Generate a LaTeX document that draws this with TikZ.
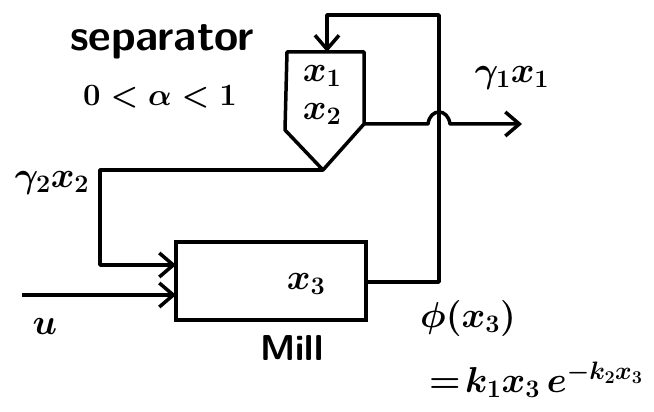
\RequirePackage{fix-cm}
\documentclass[tikz,border=0pt]{standalone}
\usepackage{tikz}
\usetikzlibrary{arrows.meta,positioning}
\tikzset{
  millbox/.style={
    draw,
    line width=3.5pt,
    minimum width=190pt,
    minimum height=78pt,
    inner sep=0pt
  },
  flowline/.style={line width=3.5pt,line join=round},
  flowarrow/.style={flowline,-{Straight Barb[length=14pt,width=24pt,line width=3.5pt]}},
  handlabel/.style={font=\fontsize{36}{40}\selectfont\sffamily\bfseries\boldmath,inner sep=0pt}
}

\begin{document}
\begin{tikzpicture}[x=1pt,y=-1pt]
  \useasboundingbox (0,0) rectangle (654,412);
  % separator (hopper shape)
  \coordinate (septl) at (287,52);
  \coordinate (septr) at (364,52);
  \coordinate (sepr) at (364,124);
  \coordinate (sepl) at (285,130);
  \coordinate (septip) at (323,170);
  \coordinate (sepin) at (327,52);
  \draw[flowline] (septl) -- (septr) -- (sepr) -- (septip) -- (sepl) -- cycle;
  \node[handlabel] (xone) at (322,76) {$x_1$};
  \node[handlabel] (xtwo) at (322,114) {$x_2$};
  \node[handlabel,font=\fontsize{44}{48}\selectfont\sffamily\bfseries] (septext) at (162,42) {separator};
  \node[handlabel,font=\fontsize{31}{36}\selectfont\boldmath] (alpha) at (160,97) {$0<\alpha<1$};
  % mill
  \node[millbox] (mill) at (271,281) {};
  \node[handlabel] (xthree) at (306,284) {$x_3$};
  \node[handlabel] (milltext) at (292,348) {Mill};
  % feedback to separator
  \coordinate (millout) at (366,282);
  \coordinate (fbtop) at (439,15);
  \draw[flowarrow] (millout) -| (fbtop) -| (sepin);
  % product stream with hop over the feedback line
  \coordinate (hopl) at (428,124);
  \coordinate (hopr) at (450,124);
  \coordinate (prodout) at (522,124);
  \draw[flowarrow] (sepr) -- (hopl) .. controls (430,108) and (448,108) .. (hopr) -- (prodout);
  \node[handlabel] (prodtext) at (512,78) {$\gamma_1 x_1$};
  % recycle stream
  \coordinate (reccorner) at (100,265);
  \coordinate (millin1) at (176,265);
  \draw[flowarrow] (septip) -| (reccorner) -- (millin1);
  \node[handlabel] (rectext) at (52,183) {$\gamma_2 x_2$};
  % feed
  \coordinate (feedin) at (22,295);
  \coordinate (millin2) at (176,295);
  \draw[flowarrow] (feedin) -- (millin2);
  \node[handlabel] (feedtext) at (45,326) {$u$};
  % breakage rate
  \node[handlabel] (phitext) at (468,318) {$\phi(x_3)$};
  \node[handlabel] (ratetext) at (536,380) {$=\!k_1x_3\,e^{-k_2x_3}$};
\end{tikzpicture}
\end{document}
